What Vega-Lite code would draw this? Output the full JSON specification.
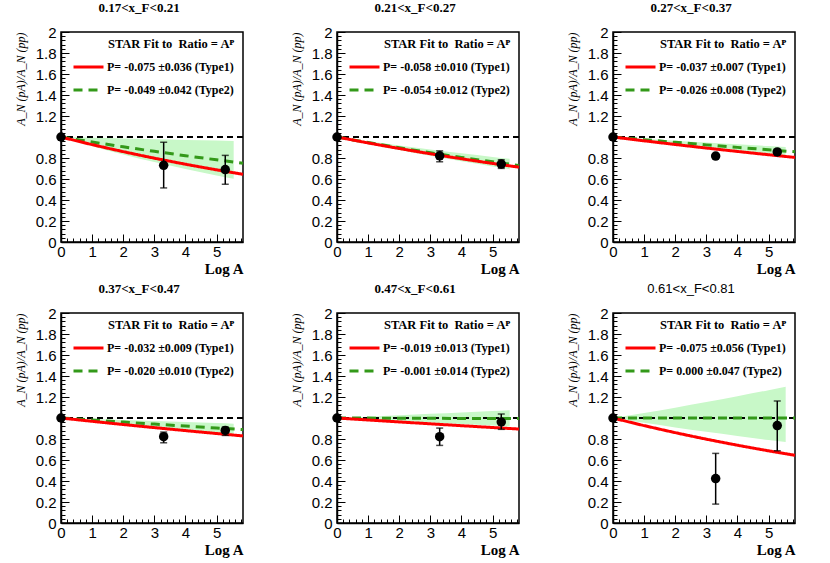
{
  "$schema": "https://vega.github.io/schema/vega-lite/v6.json",
  "background": "white",
  "padding": {"left": 13, "top": 1, "right": 0, "bottom": 0},
  "columns": 3,
  "spacing": {"row": 71, "column": 94},
  "bounds": "flush",
  "resolve": {
    "scale": {"color": "independent", "strokeDash": "independent"},
    "legend": {"color": "independent", "strokeDash": "independent"}
  },
  "concat": [
    {
      "width": 182, "height": 210,
      "title": "0.17<x_F<0.21",
      "data": {"values": [
        {"kind": "pt", "x": 0, "y": 1, "lo": 1, "hi": 1},
        {"kind": "pt", "x": 3.3, "y": 0.73, "lo": 0.515, "hi": 0.95},
        {"kind": "pt", "x": 5.28, "y": 0.69, "lo": 0.55, "hi": 0.825},
        {"kind": "fit1", "fit": "P= -0.075 ±0.036 (Type1)", "x": 0, "y": 1},
        {"kind": "fit1", "fit": "P= -0.075 ±0.036 (Type1)", "x": 1, "y": 0.9277},
        {"kind": "fit1", "fit": "P= -0.075 ±0.036 (Type1)", "x": 2, "y": 0.8607},
        {"kind": "fit1", "fit": "P= -0.075 ±0.036 (Type1)", "x": 3, "y": 0.7985},
        {"kind": "fit1", "fit": "P= -0.075 ±0.036 (Type1)", "x": 4, "y": 0.7408},
        {"kind": "fit1", "fit": "P= -0.075 ±0.036 (Type1)", "x": 5, "y": 0.6873},
        {"kind": "fit1", "fit": "P= -0.075 ±0.036 (Type1)", "x": 5.85, "y": 0.6449},
        {"kind": "fit2", "fit": "P= -0.049 ±0.042 (Type2)", "x": 0, "y": 1},
        {"kind": "fit2", "fit": "P= -0.049 ±0.042 (Type2)", "x": 1, "y": 0.9522},
        {"kind": "fit2", "fit": "P= -0.049 ±0.042 (Type2)", "x": 2, "y": 0.9066},
        {"kind": "fit2", "fit": "P= -0.049 ±0.042 (Type2)", "x": 3, "y": 0.8633},
        {"kind": "fit2", "fit": "P= -0.049 ±0.042 (Type2)", "x": 4, "y": 0.822},
        {"kind": "fit2", "fit": "P= -0.049 ±0.042 (Type2)", "x": 5, "y": 0.7827},
        {"kind": "fit2", "fit": "P= -0.049 ±0.042 (Type2)", "x": 5.85, "y": 0.7508},
        {"kind": "band", "x": 0, "lo": 1, "hi": 1},
        {"kind": "band", "x": 1, "lo": 0.913, "hi": 0.993},
        {"kind": "band", "x": 2, "lo": 0.8336, "hi": 0.9861},
        {"kind": "band", "x": 3, "lo": 0.7611, "hi": 0.9792},
        {"kind": "band", "x": 4, "lo": 0.6949, "hi": 0.9724},
        {"kind": "band", "x": 5, "lo": 0.6344, "hi": 0.9656},
        {"kind": "band", "x": 5.55, "lo": 0.6035, "hi": 0.9619}
      ]},
      "layer": [
        {
          "transform": [{"filter": "datum.kind == 'band'"}],
          "mark": {"type": "area", "color": "#c8f8c8", "interpolate": "monotone"},
          "encoding": {
            "x": {"field": "x", "type": "quantitative", "scale": {"domain": [0, 5.85], "nice": false, "zero": false},
              "axis": {"title": "Log A", "tickCount": 1000, "values": [0,0.2,0.4,0.6,0.8,1,1.2,1.4,1.6,1.8,2,2.2,2.4,2.6,2.8,3,3.2,3.4,3.6,3.8,4,4.2,4.4,4.6,4.8,5,5.2,5.4,5.6,5.8],
                "labelExpr": "datum.value % 1 == 0 ? format(datum.value, 'd') : ''",
                "tickSize": {"condition": {"test": "datum.value % 1 == 0", "value": -8}, "value": -4}}},
            "y": {"field": "lo", "type": "quantitative", "scale": {"domain": [0, 2], "nice": false, "zero": false},
              "axis": {"title": "A_N (pA)/A_N (pp)", "tickCount": 1000, "values": [0,0.04,0.08,0.12,0.16,0.2,0.24,0.28,0.32,0.36,0.4,0.44,0.48,0.52,0.56,0.6,0.64,0.68,0.72,0.76,0.8,0.84,0.88,0.92,0.96,1,1.04,1.08,1.12,1.16,1.2,1.24,1.28,1.32,1.36,1.4,1.44,1.48,1.52,1.56,1.6,1.64,1.68,1.72,1.76,1.8,1.84,1.88,1.92,1.96,2],
                "labelExpr": "abs(datum.value * 5 - round(datum.value * 5)) < 0.001 && datum.value != 1 ? (datum.value % 1 == 0 ? format(datum.value, 'd') : format(datum.value, '.1f')) : ''",
                "tickSize": {"condition": {"test": "abs(datum.value * 5 - round(datum.value * 5)) < 0.001", "value": -8}, "value": -4}}},
            "y2": {"field": "hi"}
          }
        },
        {"mark": {"type": "rule", "color": "black", "strokeWidth": 1, "strokeDash": [6, 4]}, "encoding": {"y": {"datum": 1}}},
        {
          "transform": [{"filter": "datum.kind == 'fit2'"}],
          "mark": {"type": "line", "strokeWidth": 3, "interpolate": "monotone"},
          "encoding": {
            "x": {"field": "x", "type": "quantitative"},
            "y": {"field": "y", "type": "quantitative"},
            "color": {"field": "fit", "type": "nominal", "scale": {"domain": ["P= -0.075 ±0.036 (Type1)", "P= -0.049 ±0.042 (Type2)"], "range": ["#ff0000", "#339919"]}, "legend": {"title": "STAR Fit to \u00a0Ratio = Aᴾ"}},
            "strokeDash": {"field": "fit", "type": "nominal", "scale": {"domain": ["P= -0.075 ±0.036 (Type1)", "P= -0.049 ±0.042 (Type2)"], "range": [[1, 0], [9, 6]]}, "legend": {"title": "STAR Fit to \u00a0Ratio = Aᴾ"}}
          }
        },
        {
          "transform": [{"filter": "datum.kind == 'fit1'"}],
          "mark": {"type": "line", "strokeWidth": 3, "interpolate": "monotone"},
          "encoding": {"x": {"field": "x", "type": "quantitative"}, "y": {"field": "y", "type": "quantitative"}, "color": {"field": "fit", "type": "nominal"}, "strokeDash": {"field": "fit", "type": "nominal"}}
        },
        {
          "transform": [{"filter": "datum.kind == 'pt'"}],
          "mark": {"type": "rule", "color": "black", "strokeWidth": 1.5},
          "encoding": {"x": {"field": "x", "type": "quantitative"}, "y": {"field": "lo", "type": "quantitative"}, "y2": {"field": "hi"}}
        },
        {
          "transform": [{"filter": "datum.kind == 'pt'"}],
          "mark": {"type": "tick", "orient": "horizontal", "color": "black", "size": 7, "thickness": 1.5},
          "encoding": {"x": {"field": "x", "type": "quantitative"}, "y": {"field": "lo", "type": "quantitative"}}
        },
        {
          "transform": [{"filter": "datum.kind == 'pt'"}],
          "mark": {"type": "tick", "orient": "horizontal", "color": "black", "size": 7, "thickness": 1.5},
          "encoding": {"x": {"field": "x", "type": "quantitative"}, "y": {"field": "hi", "type": "quantitative"}}
        },
        {
          "transform": [{"filter": "datum.kind == 'pt'"}],
          "mark": {"type": "point", "filled": true, "shape": "circle", "size": 90, "color": "black", "opacity": 1},
          "encoding": {"x": {"field": "x", "type": "quantitative"}, "y": {"field": "y", "type": "quantitative"}}
        }
      ]
    },
    {
      "width": 182, "height": 210,
      "title": "0.21<x_F<0.27",
      "data": {"values": [
        {"kind": "pt", "x": 0, "y": 1, "lo": 1, "hi": 1},
        {"kind": "pt", "x": 3.3, "y": 0.821, "lo": 0.764, "hi": 0.868},
        {"kind": "pt", "x": 5.28, "y": 0.742, "lo": 0.701, "hi": 0.783},
        {"kind": "fit1", "fit": "P= -0.058 ±0.010 (Type1)", "x": 0, "y": 1},
        {"kind": "fit1", "fit": "P= -0.058 ±0.010 (Type1)", "x": 1, "y": 0.9436},
        {"kind": "fit1", "fit": "P= -0.058 ±0.010 (Type1)", "x": 2, "y": 0.8905},
        {"kind": "fit1", "fit": "P= -0.058 ±0.010 (Type1)", "x": 3, "y": 0.8403},
        {"kind": "fit1", "fit": "P= -0.058 ±0.010 (Type1)", "x": 4, "y": 0.7929},
        {"kind": "fit1", "fit": "P= -0.058 ±0.010 (Type1)", "x": 5, "y": 0.7483},
        {"kind": "fit1", "fit": "P= -0.058 ±0.010 (Type1)", "x": 5.85, "y": 0.7123},
        {"kind": "fit2", "fit": "P= -0.054 ±0.012 (Type2)", "x": 0, "y": 1},
        {"kind": "fit2", "fit": "P= -0.054 ±0.012 (Type2)", "x": 1, "y": 0.9474},
        {"kind": "fit2", "fit": "P= -0.054 ±0.012 (Type2)", "x": 2, "y": 0.8976},
        {"kind": "fit2", "fit": "P= -0.054 ±0.012 (Type2)", "x": 3, "y": 0.8504},
        {"kind": "fit2", "fit": "P= -0.054 ±0.012 (Type2)", "x": 4, "y": 0.8057},
        {"kind": "fit2", "fit": "P= -0.054 ±0.012 (Type2)", "x": 5, "y": 0.7634},
        {"kind": "fit2", "fit": "P= -0.054 ±0.012 (Type2)", "x": 5.85, "y": 0.7291},
        {"kind": "band", "x": 0, "lo": 1, "hi": 1},
        {"kind": "band", "x": 1, "lo": 0.9361, "hi": 0.9589},
        {"kind": "band", "x": 2, "lo": 0.8763, "hi": 0.9194},
        {"kind": "band", "x": 3, "lo": 0.8204, "hi": 0.8816},
        {"kind": "band", "x": 4, "lo": 0.768, "hi": 0.8454},
        {"kind": "band", "x": 5, "lo": 0.7189, "hi": 0.8106},
        {"kind": "band", "x": 5.55, "lo": 0.6933, "hi": 0.7921}
      ]},
      "layer": [
        {
          "transform": [{"filter": "datum.kind == 'band'"}],
          "mark": {"type": "area", "color": "#c8f8c8", "interpolate": "monotone"},
          "encoding": {
            "x": {"field": "x", "type": "quantitative", "scale": {"domain": [0, 5.85], "nice": false, "zero": false},
              "axis": {"title": "Log A", "tickCount": 1000, "values": [0,0.2,0.4,0.6,0.8,1,1.2,1.4,1.6,1.8,2,2.2,2.4,2.6,2.8,3,3.2,3.4,3.6,3.8,4,4.2,4.4,4.6,4.8,5,5.2,5.4,5.6,5.8],
                "labelExpr": "datum.value % 1 == 0 ? format(datum.value, 'd') : ''",
                "tickSize": {"condition": {"test": "datum.value % 1 == 0", "value": -8}, "value": -4}}},
            "y": {"field": "lo", "type": "quantitative", "scale": {"domain": [0, 2], "nice": false, "zero": false},
              "axis": {"title": "A_N (pA)/A_N (pp)", "tickCount": 1000, "values": [0,0.04,0.08,0.12,0.16,0.2,0.24,0.28,0.32,0.36,0.4,0.44,0.48,0.52,0.56,0.6,0.64,0.68,0.72,0.76,0.8,0.84,0.88,0.92,0.96,1,1.04,1.08,1.12,1.16,1.2,1.24,1.28,1.32,1.36,1.4,1.44,1.48,1.52,1.56,1.6,1.64,1.68,1.72,1.76,1.8,1.84,1.88,1.92,1.96,2],
                "labelExpr": "abs(datum.value * 5 - round(datum.value * 5)) < 0.001 && datum.value != 1 ? (datum.value % 1 == 0 ? format(datum.value, 'd') : format(datum.value, '.1f')) : ''",
                "tickSize": {"condition": {"test": "abs(datum.value * 5 - round(datum.value * 5)) < 0.001", "value": -8}, "value": -4}}},
            "y2": {"field": "hi"}
          }
        },
        {"mark": {"type": "rule", "color": "black", "strokeWidth": 1, "strokeDash": [6, 4]}, "encoding": {"y": {"datum": 1}}},
        {
          "transform": [{"filter": "datum.kind == 'fit2'"}],
          "mark": {"type": "line", "strokeWidth": 3, "interpolate": "monotone"},
          "encoding": {
            "x": {"field": "x", "type": "quantitative"},
            "y": {"field": "y", "type": "quantitative"},
            "color": {"field": "fit", "type": "nominal", "scale": {"domain": ["P= -0.058 ±0.010 (Type1)", "P= -0.054 ±0.012 (Type2)"], "range": ["#ff0000", "#339919"]}, "legend": {"title": "STAR Fit to \u00a0Ratio = Aᴾ"}},
            "strokeDash": {"field": "fit", "type": "nominal", "scale": {"domain": ["P= -0.058 ±0.010 (Type1)", "P= -0.054 ±0.012 (Type2)"], "range": [[1, 0], [9, 6]]}, "legend": {"title": "STAR Fit to \u00a0Ratio = Aᴾ"}}
          }
        },
        {
          "transform": [{"filter": "datum.kind == 'fit1'"}],
          "mark": {"type": "line", "strokeWidth": 3, "interpolate": "monotone"},
          "encoding": {"x": {"field": "x", "type": "quantitative"}, "y": {"field": "y", "type": "quantitative"}, "color": {"field": "fit", "type": "nominal"}, "strokeDash": {"field": "fit", "type": "nominal"}}
        },
        {
          "transform": [{"filter": "datum.kind == 'pt'"}],
          "mark": {"type": "rule", "color": "black", "strokeWidth": 1.5},
          "encoding": {"x": {"field": "x", "type": "quantitative"}, "y": {"field": "lo", "type": "quantitative"}, "y2": {"field": "hi"}}
        },
        {
          "transform": [{"filter": "datum.kind == 'pt'"}],
          "mark": {"type": "tick", "orient": "horizontal", "color": "black", "size": 7, "thickness": 1.5},
          "encoding": {"x": {"field": "x", "type": "quantitative"}, "y": {"field": "lo", "type": "quantitative"}}
        },
        {
          "transform": [{"filter": "datum.kind == 'pt'"}],
          "mark": {"type": "tick", "orient": "horizontal", "color": "black", "size": 7, "thickness": 1.5},
          "encoding": {"x": {"field": "x", "type": "quantitative"}, "y": {"field": "hi", "type": "quantitative"}}
        },
        {
          "transform": [{"filter": "datum.kind == 'pt'"}],
          "mark": {"type": "point", "filled": true, "shape": "circle", "size": 90, "color": "black", "opacity": 1},
          "encoding": {"x": {"field": "x", "type": "quantitative"}, "y": {"field": "y", "type": "quantitative"}}
        }
      ]
    },
    {
      "width": 182, "height": 210,
      "title": "0.27<x_F<0.37",
      "data": {"values": [
        {"kind": "pt", "x": 0, "y": 1, "lo": 1, "hi": 1},
        {"kind": "pt", "x": 3.3, "y": 0.818, "lo": 0.8, "hi": 0.835},
        {"kind": "pt", "x": 5.28, "y": 0.858, "lo": 0.84, "hi": 0.875},
        {"kind": "fit1", "fit": "P= -0.037 ±0.007 (Type1)", "x": 0, "y": 1},
        {"kind": "fit1", "fit": "P= -0.037 ±0.007 (Type1)", "x": 1, "y": 0.9637},
        {"kind": "fit1", "fit": "P= -0.037 ±0.007 (Type1)", "x": 2, "y": 0.9287},
        {"kind": "fit1", "fit": "P= -0.037 ±0.007 (Type1)", "x": 3, "y": 0.8949},
        {"kind": "fit1", "fit": "P= -0.037 ±0.007 (Type1)", "x": 4, "y": 0.8624},
        {"kind": "fit1", "fit": "P= -0.037 ±0.007 (Type1)", "x": 5, "y": 0.8311},
        {"kind": "fit1", "fit": "P= -0.037 ±0.007 (Type1)", "x": 5.85, "y": 0.8053},
        {"kind": "fit2", "fit": "P= -0.026 ±0.008 (Type2)", "x": 0, "y": 1},
        {"kind": "fit2", "fit": "P= -0.026 ±0.008 (Type2)", "x": 1, "y": 0.9743},
        {"kind": "fit2", "fit": "P= -0.026 ±0.008 (Type2)", "x": 2, "y": 0.9493},
        {"kind": "fit2", "fit": "P= -0.026 ±0.008 (Type2)", "x": 3, "y": 0.925},
        {"kind": "fit2", "fit": "P= -0.026 ±0.008 (Type2)", "x": 4, "y": 0.9012},
        {"kind": "fit2", "fit": "P= -0.026 ±0.008 (Type2)", "x": 5, "y": 0.8781},
        {"kind": "fit2", "fit": "P= -0.026 ±0.008 (Type2)", "x": 5.85, "y": 0.8589},
        {"kind": "band", "x": 0, "lo": 1, "hi": 1},
        {"kind": "band", "x": 1, "lo": 0.9666, "hi": 0.9822},
        {"kind": "band", "x": 2, "lo": 0.9343, "hi": 0.9646},
        {"kind": "band", "x": 3, "lo": 0.903, "hi": 0.9474},
        {"kind": "band", "x": 4, "lo": 0.8728, "hi": 0.9305},
        {"kind": "band", "x": 5, "lo": 0.8437, "hi": 0.9139},
        {"kind": "band", "x": 5.55, "lo": 0.828, "hi": 0.9049}
      ]},
      "layer": [
        {
          "transform": [{"filter": "datum.kind == 'band'"}],
          "mark": {"type": "area", "color": "#c8f8c8", "interpolate": "monotone"},
          "encoding": {
            "x": {"field": "x", "type": "quantitative", "scale": {"domain": [0, 5.85], "nice": false, "zero": false},
              "axis": {"title": "Log A", "tickCount": 1000, "values": [0,0.2,0.4,0.6,0.8,1,1.2,1.4,1.6,1.8,2,2.2,2.4,2.6,2.8,3,3.2,3.4,3.6,3.8,4,4.2,4.4,4.6,4.8,5,5.2,5.4,5.6,5.8],
                "labelExpr": "datum.value % 1 == 0 ? format(datum.value, 'd') : ''",
                "tickSize": {"condition": {"test": "datum.value % 1 == 0", "value": -8}, "value": -4}}},
            "y": {"field": "lo", "type": "quantitative", "scale": {"domain": [0, 2], "nice": false, "zero": false},
              "axis": {"title": "A_N (pA)/A_N (pp)", "tickCount": 1000, "values": [0,0.04,0.08,0.12,0.16,0.2,0.24,0.28,0.32,0.36,0.4,0.44,0.48,0.52,0.56,0.6,0.64,0.68,0.72,0.76,0.8,0.84,0.88,0.92,0.96,1,1.04,1.08,1.12,1.16,1.2,1.24,1.28,1.32,1.36,1.4,1.44,1.48,1.52,1.56,1.6,1.64,1.68,1.72,1.76,1.8,1.84,1.88,1.92,1.96,2],
                "labelExpr": "abs(datum.value * 5 - round(datum.value * 5)) < 0.001 && datum.value != 1 ? (datum.value % 1 == 0 ? format(datum.value, 'd') : format(datum.value, '.1f')) : ''",
                "tickSize": {"condition": {"test": "abs(datum.value * 5 - round(datum.value * 5)) < 0.001", "value": -8}, "value": -4}}},
            "y2": {"field": "hi"}
          }
        },
        {"mark": {"type": "rule", "color": "black", "strokeWidth": 1, "strokeDash": [6, 4]}, "encoding": {"y": {"datum": 1}}},
        {
          "transform": [{"filter": "datum.kind == 'fit2'"}],
          "mark": {"type": "line", "strokeWidth": 3, "interpolate": "monotone"},
          "encoding": {
            "x": {"field": "x", "type": "quantitative"},
            "y": {"field": "y", "type": "quantitative"},
            "color": {"field": "fit", "type": "nominal", "scale": {"domain": ["P= -0.037 ±0.007 (Type1)", "P= -0.026 ±0.008 (Type2)"], "range": ["#ff0000", "#339919"]}, "legend": {"title": "STAR Fit to \u00a0Ratio = Aᴾ"}},
            "strokeDash": {"field": "fit", "type": "nominal", "scale": {"domain": ["P= -0.037 ±0.007 (Type1)", "P= -0.026 ±0.008 (Type2)"], "range": [[1, 0], [9, 6]]}, "legend": {"title": "STAR Fit to \u00a0Ratio = Aᴾ"}}
          }
        },
        {
          "transform": [{"filter": "datum.kind == 'fit1'"}],
          "mark": {"type": "line", "strokeWidth": 3, "interpolate": "monotone"},
          "encoding": {"x": {"field": "x", "type": "quantitative"}, "y": {"field": "y", "type": "quantitative"}, "color": {"field": "fit", "type": "nominal"}, "strokeDash": {"field": "fit", "type": "nominal"}}
        },
        {
          "transform": [{"filter": "datum.kind == 'pt'"}],
          "mark": {"type": "rule", "color": "black", "strokeWidth": 1.5},
          "encoding": {"x": {"field": "x", "type": "quantitative"}, "y": {"field": "lo", "type": "quantitative"}, "y2": {"field": "hi"}}
        },
        {
          "transform": [{"filter": "datum.kind == 'pt'"}],
          "mark": {"type": "tick", "orient": "horizontal", "color": "black", "size": 7, "thickness": 1.5},
          "encoding": {"x": {"field": "x", "type": "quantitative"}, "y": {"field": "lo", "type": "quantitative"}}
        },
        {
          "transform": [{"filter": "datum.kind == 'pt'"}],
          "mark": {"type": "tick", "orient": "horizontal", "color": "black", "size": 7, "thickness": 1.5},
          "encoding": {"x": {"field": "x", "type": "quantitative"}, "y": {"field": "hi", "type": "quantitative"}}
        },
        {
          "transform": [{"filter": "datum.kind == 'pt'"}],
          "mark": {"type": "point", "filled": true, "shape": "circle", "size": 90, "color": "black", "opacity": 1},
          "encoding": {"x": {"field": "x", "type": "quantitative"}, "y": {"field": "y", "type": "quantitative"}}
        }
      ]
    },
    {
      "width": 182, "height": 210,
      "title": "0.37<x_F<0.47",
      "data": {"values": [
        {"kind": "pt", "x": 0, "y": 1, "lo": 1, "hi": 1},
        {"kind": "pt", "x": 3.3, "y": 0.822, "lo": 0.764, "hi": 0.866},
        {"kind": "pt", "x": 5.28, "y": 0.882, "lo": 0.834, "hi": 0.914},
        {"kind": "fit1", "fit": "P= -0.032 ±0.009 (Type1)", "x": 0, "y": 1},
        {"kind": "fit1", "fit": "P= -0.032 ±0.009 (Type1)", "x": 1, "y": 0.9685},
        {"kind": "fit1", "fit": "P= -0.032 ±0.009 (Type1)", "x": 2, "y": 0.938},
        {"kind": "fit1", "fit": "P= -0.032 ±0.009 (Type1)", "x": 3, "y": 0.9085},
        {"kind": "fit1", "fit": "P= -0.032 ±0.009 (Type1)", "x": 4, "y": 0.8799},
        {"kind": "fit1", "fit": "P= -0.032 ±0.009 (Type1)", "x": 5, "y": 0.8521},
        {"kind": "fit1", "fit": "P= -0.032 ±0.009 (Type1)", "x": 5.85, "y": 0.8293},
        {"kind": "fit2", "fit": "P= -0.020 ±0.010 (Type2)", "x": 0, "y": 1},
        {"kind": "fit2", "fit": "P= -0.020 ±0.010 (Type2)", "x": 1, "y": 0.9802},
        {"kind": "fit2", "fit": "P= -0.020 ±0.010 (Type2)", "x": 2, "y": 0.9608},
        {"kind": "fit2", "fit": "P= -0.020 ±0.010 (Type2)", "x": 3, "y": 0.9418},
        {"kind": "fit2", "fit": "P= -0.020 ±0.010 (Type2)", "x": 4, "y": 0.9231},
        {"kind": "fit2", "fit": "P= -0.020 ±0.010 (Type2)", "x": 5, "y": 0.9048},
        {"kind": "fit2", "fit": "P= -0.020 ±0.010 (Type2)", "x": 5.85, "y": 0.8896},
        {"kind": "band", "x": 0, "lo": 1, "hi": 1},
        {"kind": "band", "x": 1, "lo": 0.9704, "hi": 0.99},
        {"kind": "band", "x": 2, "lo": 0.9418, "hi": 0.9802},
        {"kind": "band", "x": 3, "lo": 0.9139, "hi": 0.9704},
        {"kind": "band", "x": 4, "lo": 0.8869, "hi": 0.9608},
        {"kind": "band", "x": 5, "lo": 0.8607, "hi": 0.9512},
        {"kind": "band", "x": 5.55, "lo": 0.8466, "hi": 0.946}
      ]},
      "layer": [
        {
          "transform": [{"filter": "datum.kind == 'band'"}],
          "mark": {"type": "area", "color": "#c8f8c8", "interpolate": "monotone"},
          "encoding": {
            "x": {"field": "x", "type": "quantitative", "scale": {"domain": [0, 5.85], "nice": false, "zero": false},
              "axis": {"title": "Log A", "tickCount": 1000, "values": [0,0.2,0.4,0.6,0.8,1,1.2,1.4,1.6,1.8,2,2.2,2.4,2.6,2.8,3,3.2,3.4,3.6,3.8,4,4.2,4.4,4.6,4.8,5,5.2,5.4,5.6,5.8],
                "labelExpr": "datum.value % 1 == 0 ? format(datum.value, 'd') : ''",
                "tickSize": {"condition": {"test": "datum.value % 1 == 0", "value": -8}, "value": -4}}},
            "y": {"field": "lo", "type": "quantitative", "scale": {"domain": [0, 2], "nice": false, "zero": false},
              "axis": {"title": "A_N (pA)/A_N (pp)", "tickCount": 1000, "values": [0,0.04,0.08,0.12,0.16,0.2,0.24,0.28,0.32,0.36,0.4,0.44,0.48,0.52,0.56,0.6,0.64,0.68,0.72,0.76,0.8,0.84,0.88,0.92,0.96,1,1.04,1.08,1.12,1.16,1.2,1.24,1.28,1.32,1.36,1.4,1.44,1.48,1.52,1.56,1.6,1.64,1.68,1.72,1.76,1.8,1.84,1.88,1.92,1.96,2],
                "labelExpr": "abs(datum.value * 5 - round(datum.value * 5)) < 0.001 && datum.value != 1 ? (datum.value % 1 == 0 ? format(datum.value, 'd') : format(datum.value, '.1f')) : ''",
                "tickSize": {"condition": {"test": "abs(datum.value * 5 - round(datum.value * 5)) < 0.001", "value": -8}, "value": -4}}},
            "y2": {"field": "hi"}
          }
        },
        {"mark": {"type": "rule", "color": "black", "strokeWidth": 1, "strokeDash": [6, 4]}, "encoding": {"y": {"datum": 1}}},
        {
          "transform": [{"filter": "datum.kind == 'fit2'"}],
          "mark": {"type": "line", "strokeWidth": 3, "interpolate": "monotone"},
          "encoding": {
            "x": {"field": "x", "type": "quantitative"},
            "y": {"field": "y", "type": "quantitative"},
            "color": {"field": "fit", "type": "nominal", "scale": {"domain": ["P= -0.032 ±0.009 (Type1)", "P= -0.020 ±0.010 (Type2)"], "range": ["#ff0000", "#339919"]}, "legend": {"title": "STAR Fit to \u00a0Ratio = Aᴾ"}},
            "strokeDash": {"field": "fit", "type": "nominal", "scale": {"domain": ["P= -0.032 ±0.009 (Type1)", "P= -0.020 ±0.010 (Type2)"], "range": [[1, 0], [9, 6]]}, "legend": {"title": "STAR Fit to \u00a0Ratio = Aᴾ"}}
          }
        },
        {
          "transform": [{"filter": "datum.kind == 'fit1'"}],
          "mark": {"type": "line", "strokeWidth": 3, "interpolate": "monotone"},
          "encoding": {"x": {"field": "x", "type": "quantitative"}, "y": {"field": "y", "type": "quantitative"}, "color": {"field": "fit", "type": "nominal"}, "strokeDash": {"field": "fit", "type": "nominal"}}
        },
        {
          "transform": [{"filter": "datum.kind == 'pt'"}],
          "mark": {"type": "rule", "color": "black", "strokeWidth": 1.5},
          "encoding": {"x": {"field": "x", "type": "quantitative"}, "y": {"field": "lo", "type": "quantitative"}, "y2": {"field": "hi"}}
        },
        {
          "transform": [{"filter": "datum.kind == 'pt'"}],
          "mark": {"type": "tick", "orient": "horizontal", "color": "black", "size": 7, "thickness": 1.5},
          "encoding": {"x": {"field": "x", "type": "quantitative"}, "y": {"field": "lo", "type": "quantitative"}}
        },
        {
          "transform": [{"filter": "datum.kind == 'pt'"}],
          "mark": {"type": "tick", "orient": "horizontal", "color": "black", "size": 7, "thickness": 1.5},
          "encoding": {"x": {"field": "x", "type": "quantitative"}, "y": {"field": "hi", "type": "quantitative"}}
        },
        {
          "transform": [{"filter": "datum.kind == 'pt'"}],
          "mark": {"type": "point", "filled": true, "shape": "circle", "size": 90, "color": "black", "opacity": 1},
          "encoding": {"x": {"field": "x", "type": "quantitative"}, "y": {"field": "y", "type": "quantitative"}}
        }
      ]
    },
    {
      "width": 182, "height": 210,
      "title": "0.47<x_F<0.61",
      "data": {"values": [
        {"kind": "pt", "x": 0, "y": 1, "lo": 1, "hi": 1},
        {"kind": "pt", "x": 3.3, "y": 0.822, "lo": 0.739, "hi": 0.904},
        {"kind": "pt", "x": 5.28, "y": 0.962, "lo": 0.892, "hi": 1.038},
        {"kind": "fit1", "fit": "P= -0.019 ±0.013 (Type1)", "x": 0, "y": 1},
        {"kind": "fit1", "fit": "P= -0.019 ±0.013 (Type1)", "x": 1, "y": 0.9812},
        {"kind": "fit1", "fit": "P= -0.019 ±0.013 (Type1)", "x": 2, "y": 0.9627},
        {"kind": "fit1", "fit": "P= -0.019 ±0.013 (Type1)", "x": 3, "y": 0.9446},
        {"kind": "fit1", "fit": "P= -0.019 ±0.013 (Type1)", "x": 4, "y": 0.9268},
        {"kind": "fit1", "fit": "P= -0.019 ±0.013 (Type1)", "x": 5, "y": 0.9094},
        {"kind": "fit1", "fit": "P= -0.019 ±0.013 (Type1)", "x": 5.85, "y": 0.8948},
        {"kind": "fit2", "fit": "P= -0.001 ±0.014 (Type2)", "x": 0, "y": 1},
        {"kind": "fit2", "fit": "P= -0.001 ±0.014 (Type2)", "x": 1, "y": 0.999},
        {"kind": "fit2", "fit": "P= -0.001 ±0.014 (Type2)", "x": 2, "y": 0.998},
        {"kind": "fit2", "fit": "P= -0.001 ±0.014 (Type2)", "x": 3, "y": 0.997},
        {"kind": "fit2", "fit": "P= -0.001 ±0.014 (Type2)", "x": 4, "y": 0.996},
        {"kind": "fit2", "fit": "P= -0.001 ±0.014 (Type2)", "x": 5, "y": 0.995},
        {"kind": "fit2", "fit": "P= -0.001 ±0.014 (Type2)", "x": 5.85, "y": 0.9942},
        {"kind": "band", "x": 0, "lo": 1, "hi": 1},
        {"kind": "band", "x": 1, "lo": 0.9851, "hi": 1.0131},
        {"kind": "band", "x": 2, "lo": 0.9704, "hi": 1.0263},
        {"kind": "band", "x": 3, "lo": 0.956, "hi": 1.0398},
        {"kind": "band", "x": 4, "lo": 0.9418, "hi": 1.0534},
        {"kind": "band", "x": 5, "lo": 0.9277, "hi": 1.0672},
        {"kind": "band", "x": 5.55, "lo": 0.9201, "hi": 1.0748}
      ]},
      "layer": [
        {
          "transform": [{"filter": "datum.kind == 'band'"}],
          "mark": {"type": "area", "color": "#c8f8c8", "interpolate": "monotone"},
          "encoding": {
            "x": {"field": "x", "type": "quantitative", "scale": {"domain": [0, 5.85], "nice": false, "zero": false},
              "axis": {"title": "Log A", "tickCount": 1000, "values": [0,0.2,0.4,0.6,0.8,1,1.2,1.4,1.6,1.8,2,2.2,2.4,2.6,2.8,3,3.2,3.4,3.6,3.8,4,4.2,4.4,4.6,4.8,5,5.2,5.4,5.6,5.8],
                "labelExpr": "datum.value % 1 == 0 ? format(datum.value, 'd') : ''",
                "tickSize": {"condition": {"test": "datum.value % 1 == 0", "value": -8}, "value": -4}}},
            "y": {"field": "lo", "type": "quantitative", "scale": {"domain": [0, 2], "nice": false, "zero": false},
              "axis": {"title": "A_N (pA)/A_N (pp)", "tickCount": 1000, "values": [0,0.04,0.08,0.12,0.16,0.2,0.24,0.28,0.32,0.36,0.4,0.44,0.48,0.52,0.56,0.6,0.64,0.68,0.72,0.76,0.8,0.84,0.88,0.92,0.96,1,1.04,1.08,1.12,1.16,1.2,1.24,1.28,1.32,1.36,1.4,1.44,1.48,1.52,1.56,1.6,1.64,1.68,1.72,1.76,1.8,1.84,1.88,1.92,1.96,2],
                "labelExpr": "abs(datum.value * 5 - round(datum.value * 5)) < 0.001 && datum.value != 1 ? (datum.value % 1 == 0 ? format(datum.value, 'd') : format(datum.value, '.1f')) : ''",
                "tickSize": {"condition": {"test": "abs(datum.value * 5 - round(datum.value * 5)) < 0.001", "value": -8}, "value": -4}}},
            "y2": {"field": "hi"}
          }
        },
        {"mark": {"type": "rule", "color": "black", "strokeWidth": 1, "strokeDash": [6, 4]}, "encoding": {"y": {"datum": 1}}},
        {
          "transform": [{"filter": "datum.kind == 'fit2'"}],
          "mark": {"type": "line", "strokeWidth": 3, "interpolate": "monotone"},
          "encoding": {
            "x": {"field": "x", "type": "quantitative"},
            "y": {"field": "y", "type": "quantitative"},
            "color": {"field": "fit", "type": "nominal", "scale": {"domain": ["P= -0.019 ±0.013 (Type1)", "P= -0.001 ±0.014 (Type2)"], "range": ["#ff0000", "#339919"]}, "legend": {"title": "STAR Fit to \u00a0Ratio = Aᴾ"}},
            "strokeDash": {"field": "fit", "type": "nominal", "scale": {"domain": ["P= -0.019 ±0.013 (Type1)", "P= -0.001 ±0.014 (Type2)"], "range": [[1, 0], [9, 6]]}, "legend": {"title": "STAR Fit to \u00a0Ratio = Aᴾ"}}
          }
        },
        {
          "transform": [{"filter": "datum.kind == 'fit1'"}],
          "mark": {"type": "line", "strokeWidth": 3, "interpolate": "monotone"},
          "encoding": {"x": {"field": "x", "type": "quantitative"}, "y": {"field": "y", "type": "quantitative"}, "color": {"field": "fit", "type": "nominal"}, "strokeDash": {"field": "fit", "type": "nominal"}}
        },
        {
          "transform": [{"filter": "datum.kind == 'pt'"}],
          "mark": {"type": "rule", "color": "black", "strokeWidth": 1.5},
          "encoding": {"x": {"field": "x", "type": "quantitative"}, "y": {"field": "lo", "type": "quantitative"}, "y2": {"field": "hi"}}
        },
        {
          "transform": [{"filter": "datum.kind == 'pt'"}],
          "mark": {"type": "tick", "orient": "horizontal", "color": "black", "size": 7, "thickness": 1.5},
          "encoding": {"x": {"field": "x", "type": "quantitative"}, "y": {"field": "lo", "type": "quantitative"}}
        },
        {
          "transform": [{"filter": "datum.kind == 'pt'"}],
          "mark": {"type": "tick", "orient": "horizontal", "color": "black", "size": 7, "thickness": 1.5},
          "encoding": {"x": {"field": "x", "type": "quantitative"}, "y": {"field": "hi", "type": "quantitative"}}
        },
        {
          "transform": [{"filter": "datum.kind == 'pt'"}],
          "mark": {"type": "point", "filled": true, "shape": "circle", "size": 90, "color": "black", "opacity": 1},
          "encoding": {"x": {"field": "x", "type": "quantitative"}, "y": {"field": "y", "type": "quantitative"}}
        }
      ]
    },
    {
      "width": 182, "height": 210,
      "title": {"text": "0.61<x_F<0.81", "font": "Liberation Sans", "fontWeight": "normal"},
      "data": {"values": [
        {"kind": "pt", "x": 0, "y": 1, "lo": 1, "hi": 1},
        {"kind": "pt", "x": 3.3, "y": 0.423, "lo": 0.18, "hi": 0.663},
        {"kind": "pt", "x": 5.28, "y": 0.928, "lo": 0.688, "hi": 1.162},
        {"kind": "fit1", "fit": "P= -0.075 ±0.056 (Type1)", "x": 0, "y": 1},
        {"kind": "fit1", "fit": "P= -0.075 ±0.056 (Type1)", "x": 1, "y": 0.9277},
        {"kind": "fit1", "fit": "P= -0.075 ±0.056 (Type1)", "x": 2, "y": 0.8607},
        {"kind": "fit1", "fit": "P= -0.075 ±0.056 (Type1)", "x": 3, "y": 0.7985},
        {"kind": "fit1", "fit": "P= -0.075 ±0.056 (Type1)", "x": 4, "y": 0.7408},
        {"kind": "fit1", "fit": "P= -0.075 ±0.056 (Type1)", "x": 5, "y": 0.6873},
        {"kind": "fit1", "fit": "P= -0.075 ±0.056 (Type1)", "x": 5.85, "y": 0.6449},
        {"kind": "fit2", "fit": "P= 0.000 ±0.047 (Type2)", "x": 0, "y": 1},
        {"kind": "fit2", "fit": "P= 0.000 ±0.047 (Type2)", "x": 1, "y": 1},
        {"kind": "fit2", "fit": "P= 0.000 ±0.047 (Type2)", "x": 2, "y": 1},
        {"kind": "fit2", "fit": "P= 0.000 ±0.047 (Type2)", "x": 3, "y": 1},
        {"kind": "fit2", "fit": "P= 0.000 ±0.047 (Type2)", "x": 4, "y": 1},
        {"kind": "fit2", "fit": "P= 0.000 ±0.047 (Type2)", "x": 5, "y": 1},
        {"kind": "fit2", "fit": "P= 0.000 ±0.047 (Type2)", "x": 5.85, "y": 1},
        {"kind": "band", "x": 0, "lo": 1, "hi": 1},
        {"kind": "band", "x": 1, "lo": 0.9541, "hi": 1.0481},
        {"kind": "band", "x": 2, "lo": 0.9103, "hi": 1.0986},
        {"kind": "band", "x": 3, "lo": 0.8685, "hi": 1.1514},
        {"kind": "band", "x": 4, "lo": 0.8286, "hi": 1.2068},
        {"kind": "band", "x": 5, "lo": 0.7906, "hi": 1.2649},
        {"kind": "band", "x": 5.55, "lo": 0.7704, "hi": 1.298}
      ]},
      "layer": [
        {
          "transform": [{"filter": "datum.kind == 'band'"}],
          "mark": {"type": "area", "color": "#c8f8c8", "interpolate": "monotone"},
          "encoding": {
            "x": {"field": "x", "type": "quantitative", "scale": {"domain": [0, 5.85], "nice": false, "zero": false},
              "axis": {"title": "Log A", "tickCount": 1000, "values": [0,0.2,0.4,0.6,0.8,1,1.2,1.4,1.6,1.8,2,2.2,2.4,2.6,2.8,3,3.2,3.4,3.6,3.8,4,4.2,4.4,4.6,4.8,5,5.2,5.4,5.6,5.8],
                "labelExpr": "datum.value % 1 == 0 ? format(datum.value, 'd') : ''",
                "tickSize": {"condition": {"test": "datum.value % 1 == 0", "value": -8}, "value": -4}}},
            "y": {"field": "lo", "type": "quantitative", "scale": {"domain": [0, 2], "nice": false, "zero": false},
              "axis": {"title": "A_N (pA)/A_N (pp)", "tickCount": 1000, "values": [0,0.04,0.08,0.12,0.16,0.2,0.24,0.28,0.32,0.36,0.4,0.44,0.48,0.52,0.56,0.6,0.64,0.68,0.72,0.76,0.8,0.84,0.88,0.92,0.96,1,1.04,1.08,1.12,1.16,1.2,1.24,1.28,1.32,1.36,1.4,1.44,1.48,1.52,1.56,1.6,1.64,1.68,1.72,1.76,1.8,1.84,1.88,1.92,1.96,2],
                "labelExpr": "abs(datum.value * 5 - round(datum.value * 5)) < 0.001 && datum.value != 1 ? (datum.value % 1 == 0 ? format(datum.value, 'd') : format(datum.value, '.1f')) : ''",
                "tickSize": {"condition": {"test": "abs(datum.value * 5 - round(datum.value * 5)) < 0.001", "value": -8}, "value": -4}}},
            "y2": {"field": "hi"}
          }
        },
        {"mark": {"type": "rule", "color": "black", "strokeWidth": 1, "strokeDash": [6, 4]}, "encoding": {"y": {"datum": 1}}},
        {
          "transform": [{"filter": "datum.kind == 'fit2'"}],
          "mark": {"type": "line", "strokeWidth": 3, "interpolate": "monotone"},
          "encoding": {
            "x": {"field": "x", "type": "quantitative"},
            "y": {"field": "y", "type": "quantitative"},
            "color": {"field": "fit", "type": "nominal", "scale": {"domain": ["P= -0.075 ±0.056 (Type1)", "P= 0.000 ±0.047 (Type2)"], "range": ["#ff0000", "#339919"]}, "legend": {"title": "STAR Fit to \u00a0Ratio = Aᴾ"}},
            "strokeDash": {"field": "fit", "type": "nominal", "scale": {"domain": ["P= -0.075 ±0.056 (Type1)", "P= 0.000 ±0.047 (Type2)"], "range": [[1, 0], [9, 6]]}, "legend": {"title": "STAR Fit to \u00a0Ratio = Aᴾ"}}
          }
        },
        {
          "transform": [{"filter": "datum.kind == 'fit1'"}],
          "mark": {"type": "line", "strokeWidth": 3, "interpolate": "monotone"},
          "encoding": {"x": {"field": "x", "type": "quantitative"}, "y": {"field": "y", "type": "quantitative"}, "color": {"field": "fit", "type": "nominal"}, "strokeDash": {"field": "fit", "type": "nominal"}}
        },
        {
          "transform": [{"filter": "datum.kind == 'pt'"}],
          "mark": {"type": "rule", "color": "black", "strokeWidth": 1.5},
          "encoding": {"x": {"field": "x", "type": "quantitative"}, "y": {"field": "lo", "type": "quantitative"}, "y2": {"field": "hi"}}
        },
        {
          "transform": [{"filter": "datum.kind == 'pt'"}],
          "mark": {"type": "tick", "orient": "horizontal", "color": "black", "size": 7, "thickness": 1.5},
          "encoding": {"x": {"field": "x", "type": "quantitative"}, "y": {"field": "lo", "type": "quantitative"}}
        },
        {
          "transform": [{"filter": "datum.kind == 'pt'"}],
          "mark": {"type": "tick", "orient": "horizontal", "color": "black", "size": 7, "thickness": 1.5},
          "encoding": {"x": {"field": "x", "type": "quantitative"}, "y": {"field": "hi", "type": "quantitative"}}
        },
        {
          "transform": [{"filter": "datum.kind == 'pt'"}],
          "mark": {"type": "point", "filled": true, "shape": "circle", "size": 90, "color": "black", "opacity": 1},
          "encoding": {"x": {"field": "x", "type": "quantitative"}, "y": {"field": "y", "type": "quantitative"}}
        }
      ]
    }
  ],
  "config": {
    "view": {"stroke": "black", "strokeWidth": 1.5},
    "axis": {"grid": false, "domainColor": "black", "domainWidth": 1.5, "tickColor": "black", "tickWidth": 1, "labelFont": "Liberation Sans", "labelFontSize": 15, "labelColor": "black", "labelOverlap": false, "labelFlush": false, "titleColor": "black"},
    "axisX": {"labelPadding": 10, "titleFont": "Liberation Serif", "titleFontWeight": "bold", "titleFontSize": 15, "titleAnchor": "end", "titlePadding": -2},
    "axisY": {"labelPadding": 13, "titleFont": "Liberation Serif", "titleFontStyle": "italic", "titleFontWeight": "normal", "titleFontSize": 12, "titleAnchor": "end", "titlePadding": 8},
    "title": {"font": "Liberation Serif", "fontWeight": "bold", "fontSize": 13, "color": "black", "offset": 10, "frame": "group", "dx": -13},
    "legend": {"orient": "none", "legendX": 21, "legendY": 6, "titleFont": "Liberation Serif", "titleFontWeight": "bold", "titleFontSize": 12.5, "titleColor": "black", "titleAnchor": "end", "titlePadding": 10, "labelFont": "Liberation Serif", "labelFontWeight": "bold", "labelFontSize": 12, "labelColor": "black", "labelLimit": 300, "labelOffset": 12, "symbolType": "M-3,0H3", "symbolSize": 100, "symbolStrokeWidth": 3, "rowPadding": 10}
  }
}
